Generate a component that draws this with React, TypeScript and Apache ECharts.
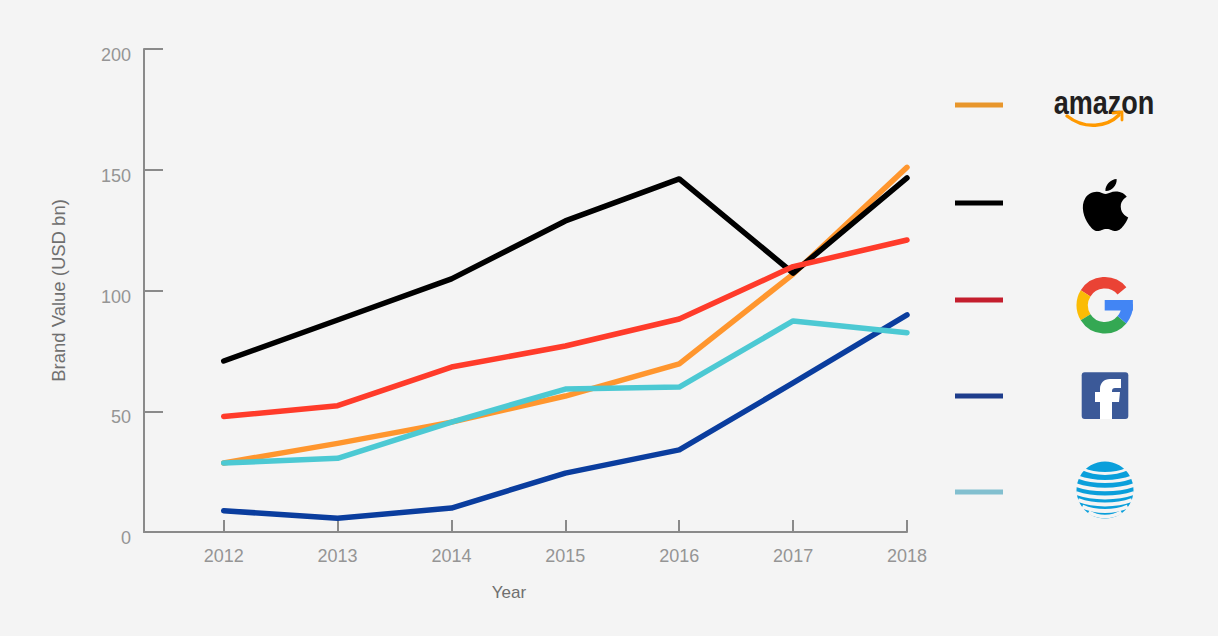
import React, { useEffect, useRef } from "react";
import * as echarts from "echarts";

const years = [2012, 2013, 2014, 2015, 2016, 2017, 2018];
const yTicks = [0, 50, 100, 150, 200];
const amazon = [28.6, 36.7, 45.5, 56.3, 69.6, 106.8, 151.0];
const apple = [70.8, 87.8, 104.8, 128.8, 146.2, 107.2, 146.6];
const google = [47.8, 52.3, 68.3, 77.0, 88.2, 109.9, 120.9];
const facebook = [8.8, 5.7, 9.9, 24.4, 34.0, 61.7, 89.9];
const att = [28.6, 30.5, 45.5, 59.2, 60.0, 87.4, 82.5];

const brands = ["Amazon", "Apple", "Google", "Facebook", "AT&T"];
const lineColors = ["#ff962e", "#000000", "#ff3b2a", "#0a3d9e", "#4cc9d3"];
const legendColors = ["#e8962b", "#000000", "#c41e2d", "#1e3d8c", "#82bfcf"];
const seriesValues = [amazon, apple, google, facebook, att];

const APPLE_D =
  "M12.152 6.896c-.948 0-2.415-1.078-3.96-1.04-2.04.027-3.91 1.183-4.961 3.014-2.117 3.675-.546 9.103 1.519 12.09 1.013 1.454 2.208 3.09 3.792 3.039 1.52-.065 2.09-.987 3.935-.987 1.831 0 2.35.987 3.96.948 1.637-.026 2.676-1.48 3.676-2.948 1.156-1.688 1.636-3.325 1.662-3.415-.039-.013-3.182-1.221-3.22-4.857-.026-3.04 2.48-4.494 2.597-4.559-1.429-2.09-3.623-2.324-4.39-2.376-2-.156-3.675 1.09-4.61 1.09zM15.53 3.83c.843-1.012 1.4-2.427 1.245-3.83-1.207.052-2.662.805-3.532 1.818-.78.896-1.454 2.338-1.273 3.714 1.338.104 2.715-.688 3.559-1.701";
const FB_F_D =
  "M1100 419 L1100 402 L1095 402 L1095 392 L1100 392 L1100 389 C1100 383 1104 379 1110 379 L1121 379 L1121 388 L1115 388 C1113 388 1112 389 1112 391 L1112 392 L1120 392 L1119 402 L1112 402 L1112 419 Z";

let registered = false;
function registerShapes() {
  if (registered) return;
  echarts.graphic.registerShape("appleLogo", echarts.graphic.extendPath(APPLE_D, {}));
  echarts.graphic.registerShape("fbF", echarts.graphic.extendPath(FB_F_D, {}));
  registered = true;
}

function buildLogos(): any[] {
  const els: any[] = [];
  const legendYs = [105, 203, 300, 396, 492];
  legendYs.forEach((y, i) => {
    els.push({
      type: "rect",
      shape: { x: 955, y: y - 2.5, width: 48, height: 5 },
      style: { fill: legendColors[i] },
    });
  });
  // amazon
  els.push({
    type: "text",
    x: 1104,
    y: 103,
    scaleX: 0.82,
    style: {
      text: "amazon",
      x: 0,
      y: 0,
      align: "center",
      verticalAlign: "middle",
      font: "bold 33px 'Liberation Sans', Arial, sans-serif",
      fill: "#221f1f",
    },
  });
  els.push({
    type: "bezierCurve",
    shape: { x1: 1067, y1: 116, x2: 1119, y2: 115, cpx1: 1085, cpy1: 130, cpx2: 1107, cpy2: 127 },
    style: { stroke: "#ff9900", lineWidth: 3.4, fill: "none", lineCap: "round" },
  });
  els.push({
    type: "polyline",
    shape: { points: [[1113, 113], [1122, 112], [1122, 120]] },
    style: { stroke: "#ff9900", lineWidth: 2.8, fill: "none", lineCap: "round", lineJoin: "round" },
  });
  // apple
  els.push({
    type: "appleLogo",
    x: 1077.7,
    y: 179,
    scaleX: 2.32,
    scaleY: 2.17,
    style: { fill: "#000000" },
  });
  // google G
  const gcx = 1104.7, gcy = 305.3, gr = 22.5, glw = 11.5;
  const deg = Math.PI / 180;
  const gArcs = [
    { s: -148, e: -40, c: "#ea4335" },
    { s: 148, e: 212, c: "#fbbc05" },
    { s: 40, e: 148, c: "#34a853" },
    { s: -2, e: 40, c: "#4285f4" },
  ];
  gArcs.forEach((a) => {
    els.push({
      type: "arc",
      shape: { cx: gcx, cy: gcy, r: gr, startAngle: a.s * deg, endAngle: a.e * deg, clockwise: true },
      style: { stroke: a.c, lineWidth: glw, fill: "none" },
    });
  });
  els.push({
    type: "rect",
    shape: { x: gcx, y: 300, width: 28.2, height: 10.5 },
    style: { fill: "#4285f4" },
  });
  // facebook
  els.push({
    type: "rect",
    shape: { x: 1081.7, y: 372.3, width: 46.6, height: 46.6, r: 3 },
    style: { fill: "#3b5998" },
  });
  els.push({ type: "fbF", x: 0, y: 0, style: { fill: "#ffffff" } });
  // AT&T globe
  const acx = 1105, acy = 490, ar = 28.5;
  els.push({ type: "circle", shape: { cx: acx, cy: acy, r: ar }, style: { fill: "#0a9fdb" } });
  const stripes = [
    { dy: -19, h: 2.8 },
    { dy: -11, h: 3.2 },
    { dy: -3, h: 3.6 },
    { dy: 5, h: 3.8 },
    { dy: 12, h: 4 },
    { dy: 18.5, h: 4 },
    { dy: 24, h: 3.6 },
  ];
  stripes.forEach((s) => {
    const hw = Math.sqrt(Math.max(ar * ar - s.dy * s.dy, 0)) + 1;
    els.push({
      type: "bezierCurve",
      shape: {
        x1: acx - hw, y1: acy + s.dy - 2,
        x2: acx + hw, y2: acy + s.dy - 2,
        cpx1: acx - hw * 0.4, cpy1: acy + s.dy + 4,
        cpx2: acx + hw * 0.4, cpy2: acy + s.dy + 4,
      },
      style: { stroke: "#f4f4f4", lineWidth: s.h, fill: "none" },
    });
  });
  return els;
}

export default function App() {
  const ref = useRef<HTMLDivElement>(null);
  useEffect(() => {
    document.body.style.margin = "0";
    registerShapes();
    const chart = echarts.init(ref.current!, null, { renderer: "svg" });
    const axisColor = "#8a8a8a";
    const font = "'Liberation Sans', Arial, sans-serif";
    chart.setOption({
      animation: false,
      backgroundColor: "#f4f4f4",
      grid: { left: 144, right: 311, top: 49, bottom: 104 },
      xAxis: {
        type: "value",
        min: 2011.3,
        max: 2018,
        name: "Year",
        nameLocation: "middle",
        nameGap: 52,
        nameTextStyle: {
          color: "#6f6f6f",
          fontSize: 17,
          fontFamily: font,
          padding: [0, 33, 0, 0],
        },
        axisLine: { show: true, lineStyle: { color: axisColor, width: 2 } },
        axisTick: {
          show: true,
          inside: true,
          length: 12,
          customValues: years,
          lineStyle: { color: axisColor, width: 2 },
        },
        axisLabel: {
          customValues: years,
          formatter: (v: number) => String(v),
          color: "#959595",
          fontSize: 18,
          margin: 15,
          fontFamily: font,
        },
        splitLine: { show: false },
      },
      yAxis: {
        type: "value",
        min: 0,
        max: 200,
        interval: 50,
        name: "Brand Value (USD bn)",
        nameLocation: "middle",
        nameGap: 76,
        nameTextStyle: {
          color: "#6f6f6f",
          fontSize: 18.5,
          fontFamily: font,
        },
        axisLine: { show: true, lineStyle: { color: axisColor, width: 2 } },
        axisTick: { show: true, inside: true, length: 19, lineStyle: { color: axisColor, width: 2 } },
        axisLabel: {
          color: "#959595",
          fontSize: 18,
          margin: 13,
          verticalAlign: "top",
          lineHeight: 12,
          fontFamily: font,
          formatter: (v: number) => (yTicks.includes(v) ? String(v) : ""),
        },
        splitLine: { show: false },
      },
      series: brands.map((b, i) => ({
        name: b,
        type: "line",
        data: years.map((y, j) => [y, seriesValues[i][j]]),
        symbol: "none",
        lineStyle: { color: lineColors[i], width: 5.5, cap: "round", join: "round" },
        itemStyle: { color: lineColors[i] },
        z: 2,
      })),
      graphic: buildLogos(),
    });
    return () => chart.dispose();
  }, []);
  return (
    <div
      ref={ref}
      style={{ position: "fixed", left: 0, top: 0, width: 1218, height: 636 }}
    />
  );
}
